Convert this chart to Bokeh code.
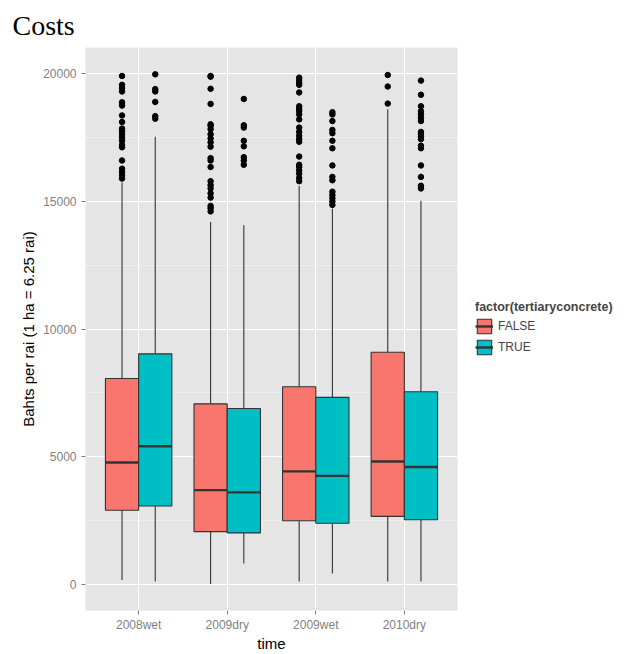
from bokeh.plotting import figure
from bokeh.layouts import row
from bokeh.models import (FactorRange, Range1d, SingleIntervalTicker, ColumnDataSource,
                          Legend, LegendItem)
from bokeh.transform import dodge
from bokeh.embed import file_html
from bokeh.resources import INLINE

times = ["2008wet", "2009dry", "2009wet", "2010dry"]
groups = ["FALSE", "TRUE"]

false_lower = [190, 40, 130, 130]
false_q1 = [2920, 2083, 2508, 2677]
false_median = [4784, 3704, 4437, 4823]
false_q3 = [8063, 7076, 7743, 9093]
false_upper = [15729, 14186, 15586, 18584]

true_lower = [130, 840, 450, 130]
true_q1 = [3086, 2033, 2407, 2546]
true_median = [5417, 3615, 4259, 4606]
true_q3 = [9028, 6894, 7330, 7550]
true_upper = [17515, 14059, 14699, 15008]

false_outliers = [
    [19887, 19540, 19413, 19282, 18858, 18730, 18345, 18087, 17833, 17740, 17613,
     17486, 17355, 17188, 17100, 16584, 16264, 16137, 16006, 15878],
    [19887, 19860, 19386, 18796, 17998, 17933, 17806, 17613, 17447, 17293, 17124,
     16677, 16584, 16330, 15775, 15621, 15493, 15300, 15134, 14811, 14722, 14595],
    [19821, 19732, 19629, 19540, 19243, 18703, 18603, 18511, 18384, 18191, 17871,
     17702, 17548, 17420, 17316, 16738, 16418, 16330, 16199, 16071, 15905, 15775],
    [19925, 19475, 18807],
]
true_outliers = [
    [19952, 19374, 19282, 18873, 18318, 18218],
    [18989, 17960, 17871, 17355, 17139, 16715, 16584, 16418],
    [18472, 18384, 18126, 17779, 17652, 17355, 17062, 16391, 15944, 15813, 15366,
     15235, 15108, 14981, 14850],
    [19706, 19154, 18703, 18511, 18384, 18256, 18126, 17702, 17613, 17524, 17420,
     17162, 17062, 16391, 15944, 15597, 15493],
]

colors = ["#F8766D", "#00BFC4"]
y_ticks_interval = 5000

FONT = "Liberation Sans"
EDGE = "#333333"

p = figure(width=462, height=654,
           x_range=FactorRange(factors=times, range_padding=0.1, range_padding_units="absolute"),
           y_range=Range1d(-1000, 21000),
           output_backend="svg", toolbar_location=None,
           min_border_left=85, min_border_right=5, min_border_top=47, min_border_bottom=37)

p.background_fill_color = "#E5E5E5"
p.border_fill_color = "white"
p.outline_line_color = None

# title
p.title.text = "Costs"
p.title.text_font = "Liberation Serif"
p.title.text_font_size = "28px"
p.title.text_font_style = "normal"
p.title.text_color = "black"
p.title.align = "left"
p.title.vertical_align = "bottom"
p.title.offset = -73
p.title.standoff = 13

# grids
p.xgrid.grid_line_color = "white"
p.xgrid.grid_line_width = 1.1
p.ygrid.grid_line_color = "white"
p.ygrid.grid_line_width = 1.1
p.ygrid.minor_grid_line_color = "#F2F2F2"
p.ygrid.minor_grid_line_width = 0.7

# axes
p.yaxis.ticker = SingleIntervalTicker(interval=y_ticks_interval, num_minor_ticks=2)
for ax in (p.xaxis, p.yaxis):
    ax.axis_line_color = None
    ax.major_tick_line_color = "#7F7F7F"
    ax.major_tick_out = 4
    ax.major_tick_in = 0
    ax.minor_tick_line_color = None
    ax.major_label_text_color = "#7F7F7F"
    ax.major_label_text_font = FONT
    ax.major_label_text_font_size = "12px"
    ax.axis_label_text_font = FONT
    ax.axis_label_text_font_size = "15px"
    ax.axis_label_text_font_style = "normal"
    ax.axis_label_text_color = "black"
p.xaxis.axis_label = "time"
p.yaxis.axis_label = "Bahts per rai (1 ha = 6.25 rai)"
p.xaxis.major_label_standoff = 3
p.xaxis.axis_label_standoff = 0
p.yaxis.axis_label_standoff = 3

# legend host figure
p2 = figure(width=170, height=654, x_range=Range1d(0, 1), y_range=Range1d(0, 1),
            x_axis_type=None, y_axis_type=None,
            output_backend="svg", toolbar_location=None, min_border=0)
p2.grid.visible = False
p2.outline_line_color = None
p2.background_fill_color = "white"
p2.border_fill_color = "white"

legend_items = []
half = 0.375
for gi, (g, col) in enumerate(zip(groups, colors)):
    off = -half / 2 if gi == 0 else half / 2
    if gi == 0:
        lo, q1, med, q3, hi, outs = false_lower, false_q1, false_median, false_q3, false_upper, false_outliers
    else:
        lo, q1, med, q3, hi, outs = true_lower, true_q1, true_median, true_q3, true_upper, true_outliers
    src = ColumnDataSource(dict(time=times, lower=lo, q1=q1, median=med, q3=q3, upper=hi))
    xs = dodge("time", off, range=p.x_range)
    p.segment(x0=xs, y0="q3", x1=xs, y1="upper", source=src, line_color=EDGE, line_width=1.1)
    p.segment(x0=xs, y0="q1", x1=xs, y1="lower", source=src, line_color=EDGE, line_width=1.1)
    p.vbar(x=xs, width=half, bottom="q1", top="q3", source=src,
           fill_color=col, line_color=EDGE, line_width=1.1)
    p.segment(x0=dodge("time", off - half / 2, range=p.x_range), y0="median",
              x1=dodge("time", off + half / 2, range=p.x_range), y1="median",
              source=src, line_color=EDGE, line_width=2.4)
    ot, ov = [], []
    for t, vals in zip(times, outs):
        for v in vals:
            ot.append(t)
            ov.append(v)
    osrc = ColumnDataSource(dict(time=ot, value=ov))
    p.scatter(x=dodge("time", off, range=p.x_range), y="value", source=osrc,
              size=5.5, fill_color="black", line_color="black")

    # legend key renderers (placed outside the legend figure's visible range)
    kbox = p2.vbar(x=[5], width=0.1, bottom=[5], top=[6], fill_color=col,
                   line_color=EDGE, line_width=1.1)
    kmed = p2.segment(x0=[5], y0=[5], x1=[6], y1=[5], line_color=EDGE, line_width=2.4)
    legend_items.append(LegendItem(label=g, renderers=[kbox, kmed]))

legend = Legend(items=legend_items, title="factor(tertiaryconcrete)",
                location=(13, 254), margin=0, padding=8,
                border_line_color=None, background_fill_color="white",
                title_text_font=FONT, title_text_font_style="bold", title_text_font_size="12.5px",
                label_text_font=FONT, label_text_font_size="12px",
                glyph_width=18, glyph_height=18, spacing=3, label_standoff=5,
                title_standoff=3)
p2.add_layout(legend, "center")

layout = row(p, p2, spacing=0)
open("out.html", "w").write(file_html(layout, INLINE))
